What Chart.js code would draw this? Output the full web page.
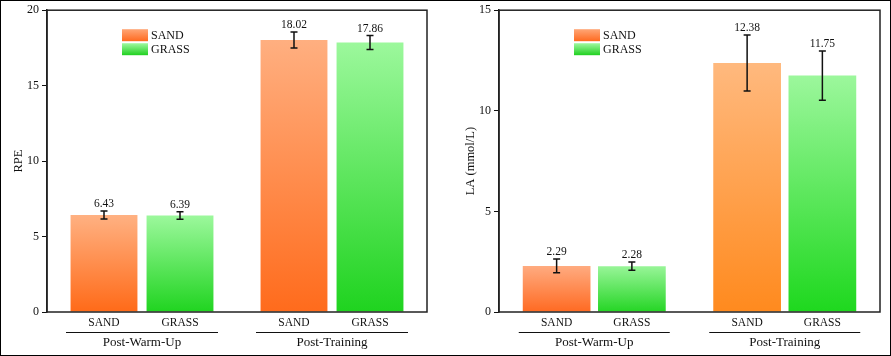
<!DOCTYPE html>
<html>
<head>
<meta charset="utf-8">
<script src="https://cdn.jsdelivr.net/npm/chart.js@4.4.1/dist/chart.umd.min.js"></script>
<style>
html,body{margin:0;padding:0;background:#fff;}
#wrap{position:relative;width:891px;height:356px;overflow:hidden;}
#c1{position:absolute;left:0;top:0;}
#c2{position:absolute;left:445px;top:0;}
#frame{position:absolute;left:0;top:0;width:891px;height:356px;box-sizing:border-box;border:1px solid #000;pointer-events:none;}
</style>
</head>
<body>
<div id="wrap">
<canvas id="c1" width="445" height="356"></canvas>
<canvas id="c2" width="446" height="356"></canvas>
<div id="frame"></div>
</div>
<script>
// ---- data ----
const groups = ['Post-Warm-Up', 'Post-Training'];
const surfaces = ['SAND', 'GRASS'];
const rpeSand = [6.43, 18.02];
const rpeGrass = [6.39, 17.86];
const rpeSandErr = [0.26, 0.53];
const rpeGrassErr = [0.25, 0.46];
const laSand = [2.29, 12.38];
const laGrass = [2.28, 11.75];
const laSandErr = [0.34, 1.39];
const laGrassErr = [0.21, 1.22];
const rpeTicks = [0, 5, 10, 15, 20];
const laTicks = [0, 5, 10, 15];

const FONT = 'Liberation Serif';

// gradient colours [top, bottom] per bar
const leftSandGrad = [['#FFB182', '#FF6A18'], ['#FFAF80', '#FF6B1C']];
const leftGrassGrad = [['#9CF89C', '#20D420'], ['#9CF89C', '#1FD31F']];
const rightSandGrad = [['#FFAB80', '#FF6A22'], ['#FFB97E', '#FF8A1E']];
const rightGrassGrad = [['#98F598', '#25D525'], ['#9CF79C', '#1ED81E']];

function gradFill(grads) {
  return function (ctx) {
    const chart = ctx.chart;
    if (ctx.type !== 'data' || !chart.chartArea || !chart.scales.y) return grads[0][1];
    const v = ctx.raw;
    const y = chart.scales.y;
    const yTop = y.getPixelForValue(v);
    const yBot = y.getPixelForValue(0);
    const g = chart.ctx.createLinearGradient(0, yTop, 0, yBot);
    const c = grads[ctx.dataIndex];
    g.addColorStop(0, c[0]);
    g.addColorStop(1, c[1]);
    return g;
  };
}

const decorPlugin = {
  id: 'decor',
  afterDatasetsDraw(chart, args, opts) {
    const ctx = chart.ctx;
    const area = chart.chartArea;
    const y = chart.scales.y;
    const x = chart.scales.x;
    ctx.save();
    // error bars & value labels
    chart.data.datasets.forEach((ds, di) => {
      const meta = chart.getDatasetMeta(di);
      meta.data.forEach((bar, i) => {
        const v = ds.data[i];
        const e = ds.errors[i];
        const yt = y.getPixelForValue(v + e);
        const yb = y.getPixelForValue(v - e);
        const cx = bar.x;
        ctx.strokeStyle = '#111';
        ctx.lineWidth = 1.5;
        ctx.beginPath();
        ctx.moveTo(cx, yt); ctx.lineTo(cx, yb);
        ctx.moveTo(cx - 3.5, yt); ctx.lineTo(cx + 3.5, yt);
        ctx.moveTo(cx - 3.5, yb); ctx.lineTo(cx + 3.5, yb);
        ctx.stroke();
        ctx.fillStyle = '#111';
        ctx.font = '11.5px "' + FONT + '"';
        ctx.textAlign = 'center';
        ctx.textBaseline = 'bottom';
        ctx.fillText(v.toFixed(2), cx, yt - 1);
        // sub labels
        ctx.textBaseline = 'middle';
        ctx.font = '11.5px "' + FONT + '"';
        ctx.fillText(surfaces[di], cx, 323);
      });
    });
    // group lines and labels
    groups.forEach((g, i) => {
      const cx = x.getPixelForValue(i);
      const half = opts.half;
      ctx.strokeStyle = '#111';
      ctx.lineWidth = 1;
      ctx.beginPath();
      ctx.moveTo(cx - half, 332.5); ctx.lineTo(cx + half, 332.5);
      ctx.stroke();
      ctx.fillStyle = '#111';
      ctx.font = '13px "' + FONT + '"';
      ctx.textAlign = 'center';
      ctx.textBaseline = 'middle';
      ctx.fillText(g, cx, 343);
    });
    // frame
    ctx.strokeStyle = '#222';
    ctx.lineWidth = 1.5;
    ctx.strokeRect(area.left, area.top, area.right - area.left, area.bottom - area.top);
    // legend
    const lx = area.left + 75, ly = area.top + 19;
    const lg = [['#FFA676', '#FF6A20'], ['#A0F8A0', '#20D020']];
    surfaces.forEach((s, i) => {
      const by = ly + i * 14;
      const g = ctx.createLinearGradient(0, by, 0, by + 12);
      g.addColorStop(0, lg[i][0]);
      g.addColorStop(1, lg[i][1]);
      ctx.fillStyle = g;
      ctx.fillRect(lx, by, 26, 12);
      ctx.fillStyle = '#111';
      ctx.font = '12px "' + FONT + '"';
      ctx.textAlign = 'left';
      ctx.textBaseline = 'middle';
      ctx.fillText(s, lx + 29, by + 6.5);
    });
    ctx.restore();
  }
};

function makeChart(id, sand, grass, sErr, gErr, sGrad, gGrad, maxV, ticks, title, yW, titlePad, rightPad, catPct, barPct, half) {
  return new Chart(document.getElementById(id), {
    type: 'bar',
    data: {
      labels: groups,
      datasets: [
        { label: surfaces[0], data: sand, errors: sErr, backgroundColor: gradFill(sGrad), borderWidth: 0, categoryPercentage: catPct, barPercentage: barPct },
        { label: surfaces[1], data: grass, errors: gErr, backgroundColor: gradFill(gGrad), borderWidth: 0, categoryPercentage: catPct, barPercentage: barPct }
      ]
    },
    options: {
      responsive: false,
      animation: false,
      devicePixelRatio: 1,
      layout: { padding: { left: 0, top: 8, right: rightPad, bottom: 0 } },
      plugins: { legend: { display: false }, tooltip: { enabled: false }, decor: { half: half } },
      scales: {
        x: {
          grid: { display: false },
          border: { display: false },
          ticks: { display: false },
          afterFit(s) { s.height = 44; }
        },
        y: {
          min: 0, max: maxV,
          afterBuildTicks(s) { s.ticks = ticks.map(v => ({ value: v })); },
          afterFit(s) { s.width = yW; },
          grid: { drawOnChartArea: false, drawTicks: true, tickLength: 5, color: '#111', lineWidth: 1 },
          border: { display: true, color: '#222', width: 1.5 },
          ticks: { color: '#111', font: { family: FONT, size: 12 }, padding: 3 },
          title: { display: true, text: title, color: '#111', font: { family: FONT, size: 12.5 }, padding: { top: titlePad, bottom: 0 } }
        }
      }
    },
    plugins: [decorPlugin]
  });
}

makeChart('c1', rpeSand, rpeGrass, rpeSandErr, rpeGrassErr, leftSandGrad, leftGrassGrad, 20, rpeTicks, 'RPE', 47, 11, 18, 0.8, 0.88, 76);
makeChart('c2', laSand, laGrass, laSandErr, laGrassErr, rightSandGrad, rightGrassGrad, 15, laTicks, 'LA (mmol/L)', 54, 18, 11, 0.79, 0.9, 75.5);
</script>
</body>
</html>
